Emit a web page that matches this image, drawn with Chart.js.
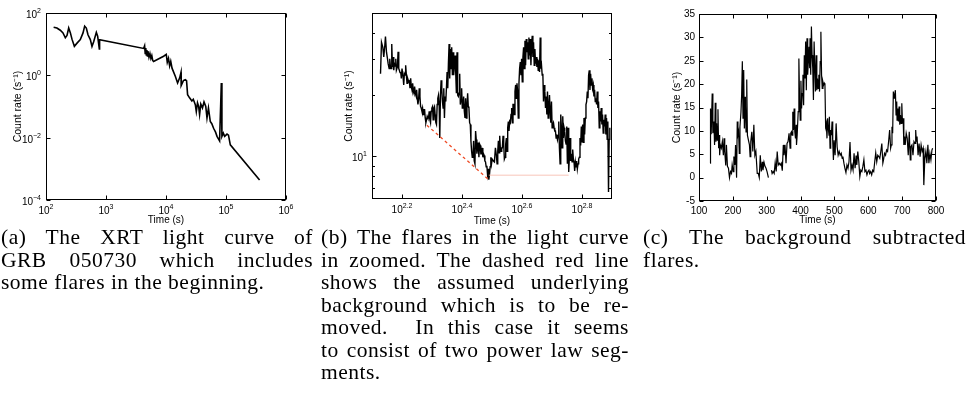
<!DOCTYPE html>
<html><head><meta charset="utf-8">
<script src="https://cdn.jsdelivr.net/npm/chart.js@4.4.1/dist/chart.umd.min.js"></script>
<style>
html,body{margin:0;padding:0;background:#fff;}
body{width:969px;height:405px;position:relative;overflow:hidden;}
canvas{position:absolute;top:0;}
.cap{position:absolute;top:226px;font-family:"Liberation Serif","Times New Roman",serif;font-size:21.5px;line-height:22.5px;color:#000;letter-spacing:0.5px;}
.cap div{text-align:justify;text-align-last:justify;}
.cap div.last{text-align:left;text-align-last:left;}
</style></head><body>
<canvas id="ca" width="300" height="230" style="left:0px"></canvas>
<canvas id="cb" width="320" height="230" style="left:320px"></canvas>
<canvas id="cc" width="329" height="230" style="left:640px"></canvas>

<div class="cap" style="left:1px;width:312px">
<div>(a) The XRT light curve of</div>
<div>GRB 050730 which includes</div>
<div class="last">some flares in the beginning.</div>
</div>
<div class="cap" style="left:321px;width:308px">
<div>(b) The flares in the light curve</div>
<div>in zoomed. The dashed red line</div>
<div>shows the assumed underlying</div>
<div>background which is to be re-</div>
<div>moved. &nbsp;In this case it seems</div>
<div>to consist of two power law seg-</div>
<div class="last">ments.</div>
</div>
<div class="cap" style="left:643px;width:323px">
<div>(c) The background subtracted</div>
<div class="last">flares.</div>
</div>

<script>
// ---------- (a) XRT light curve ----------
const aTime = [134,152,173,192,210,224,239,255,271,297,329,373,414,441,470,501,548,584,623,690,726,774,782,
  4235,4400,4500,4600,4700,4800,4900,5000,5200,5400,5600,5800,6000,6200,
  9120,10100,10500,11000,11500,12000,12600,14290,15600,16900,17800,17900,19500,21000,22000,22900,24700,
  27000,28500,30800,32000,33500,35000,36300,38000,40500,43000,46000,48200,51000,54700,58000,62100,67000,
  70800,78200,83600,85500,90200,95000,104000,110000,118000,363000];
const aRate = [35,33,28,23,16,19,33,23,14.5,8.5,10.8,14,23,38,33,20,14,8.5,12,24,18,7,14,
  7.3,8.9,5.0,7.5,4.5,6.5,4.2,6.0,3.8,5.0,3.5,4.3,3.0,2.8,
  4.1,4.7,2.6,3.5,2.0,2.8,1.7,0.94,0.57,0.83,1.26,0.47,0.68,0.73,0.68,0.24,0.19,
  0.15,0.17,0.115,0.069,0.13,0.1,0.055,0.12,0.09,0.14,0.1,0.043,0.09,0.033,0.028,0.02,0.015,
  0.011,0.0079,0.57,0.011,0.014,0.011,0.013,0.012,0.0059,0.00044];
const aXTicks = [1e2,1e3,1e4,1e5,1e6];
const aXExp = ['2','3','4','5','6'];
const aYTicks = [1e-4,1e-2,1,1e2];
const aYExp = ['\u22124','\u22122','0','2'];

// ---------- (b) zoomed flares ----------
const bTime = [134.4,135.4,136.8,137.8,138.9,139.6,140.7,141.8,142.5,143.6,144.3,145.0,145.8,146.5,147.3,148.0,148.8,149.5,150.3,151.1,
  151.8,153.0,153.8,154.6,155.3,156.1,156.9,157.7,158.5,159.8,160.6,161.4,162.2,163.0,163.9,164.7,165.5,166.8,167.7,168.5,
  169.4,170.2,171.1,172.0,172.9,173.7,174.6,175.5,176.4,177.3,178.2,179.1,180.0,180.9,181.9,182.8,183.7,184.7,185.6,186.6,
  187.5,188.5,189.4,190.4,191.4,192.3,193.3,194.3,195.3,196.3,197.3,198.3,199.3,200.3,201.3,202.4,203.4,204.4,205.5,206.5,
  207.6,208.6,209.7,210.8,211.8,212.9,214.0,215.1,216.2,217.3,218.4,219.5,220.6,221.8,222.9,224.0,225.2,226.3,227.5,228.6,
  229.8,231.0,232.1,233.3,234.5,235.7,236.9,238.1,239.3,240.6,241.8,243.0,244.2,245.5,246.8,248.0,249.3,250.5,251.8,253.1,
  254.4,255.7,257.0,258.3,259.6,260.9,262.3,263.6,264.9,266.3,267.7,269.0,270.4,271.8,273.2,274.6,275.9,277.4,278.8,280.2,
  281.6,283.0,284.5,286.0,287.4,288.9,290.3,291.8,293.3,294.8,296.3,297.8,299.4,300.9,302.4,304.0,305.5,307.1,308.6,310.2,
  311.8,313.4,315.0,316.6,
  319.7,322.2,324.6,327.1,328.8,330.5,332.1,333.8,335.5,337.3,339.0,340.7,342.4,344.2,346.0,347.7,349.5,351.3,353.1,354.9,
  356.7,358.5,360.3,362.2,364.0,365.9,367.7,369.6,371.5,373.4,375.3,377.2,379.2,381.1,383.0,385.0,386.9,388.9,390.9,392.9,
  394.9,396.9,398.9,401.0,403.0,405.1,407.2,409.2,411.3,413.4,415.5,417.6,419.8,421.9,424.1,426.3,428.4,430.6,432.8,435.0,
  437.3,439.5,441.7,444.0,446.3,448.5,450.8,453.1,455.4,457.8,460.1,462.4,464.8,467.2,469.6,472.0,474.4,476.8,479.2,481.7,
  484.1,486.6,489.1,491.6,494.1,496.6,499.2,501.7,504.3,506.9,509.4,512.0,514.6,517.3,519.9,522.6,525.2,527.9,530.6,533.3,
  536.0,538.8,541.5,544.3,547.1,549.8,552.6,555.5,558.3,561.2,564.0,566.9,569.8,572.7,575.6,578.5,581.5,584.5,587.5,590.5,
  593.5,596.5,599.6,602.6,605.7,608.8,611.9,615.0,618.2,621.3,624.5,627.7,630.9,634.1,637.3,640.6,643.8,647.2,650.5,653.8,
  657.1,660.5,663.8,667.2,670.6,674.1,677.5,680.9,684.4,687.9,691.4,694.9,698.5,702.0,705.6,709.2,712.9,716.5,720.2,723.8,
  727.5,731.2,735.0,738.7,742.5,746.3,750.1,753.9,757.7,761.6,765.5,769.4,773.3,777.3,781.2];
const bRate = [25.3,36.0,34.0,30.5,34.7,38.4,32.2,29.9,28.3,26.8,29.9,27.3,26.8,35.3,27.3,30.5,26.3,28.3,27.6,29.9,
  26.3,27.3,32.4,26.8,26.3,25.6,25.8,24.0,26.8,24.4,22.3,25.3,24.9,27.8,24.9,22.7,24.0,23.1,23.3,21.5,
  24.0,21.9,21.1,22.7,20.7,20.3,21.9,20.3,19.8,21.1,19.2,17.9,18.9,21.5,19.6,17.5,17.2,16.6,17.2,16.0,
  16.9,16.9,15.4,14.6,15.1,15.7,15.4,15.4,16.6,15.1,14.6,16.6,17.2,17.5,15.1,17.2,17.5,16.0,14.6,14.3,
  17.9,19.2,19.9,17.9,12.3,19.9,23.5,21.1,18.5,17.2,21.5,15.4,19.6,18.5,21.5,25.8,21.5,28.3,35.3,24.0,
  33.4,26.8,34.0,24.9,32.2,24.9,27.8,31.0,25.8,20.3,32.2,19.9,19.6,20.3,25.3,17.9,18.9,21.5,17.2,17.5,
  19.6,16.6,15.4,19.2,15.4,17.2,20.3,17.5,17.2,14.6,14.3,11.9,10.6,9.9,10.1,11.9,9.5,9.2,13.3,12.1,
  10.3,11.0,11.7,9.9,11.5,11.3,10.3,10.3,11.0,9.9,10.3,10.1,9.5,9.4,8.9,9.0,8.2,8.7,7.7,8.2,
  8.9,9.9,9.2,9.7,
  9.5,9.4,11.0,10.1,9.2,10.6,11.9,10.4,12.6,10.8,10.6,11.0,11.0,12.6,11.5,9.7,9.9,11.5,12.3,10.6,
  13.8,14.8,13.3,14.8,14.6,16.0,17.2,14.6,17.9,17.9,16.0,20.7,22.3,19.2,22.7,20.7,15.4,22.7,26.8,28.8,
  24.9,29.9,23.1,30.5,34.0,26.8,36.6,27.8,37.3,32.2,36.0,29.9,38.0,31.0,37.3,27.8,34.7,38.7,30.5,36.0,
  27.8,33.4,28.3,30.5,27.3,29.9,26.3,29.4,25.8,38.0,26.8,27.8,24.9,25.3,18.5,22.3,20.7,17.2,19.6,16.0,
  20.7,15.4,17.2,19.9,16.6,14.6,18.5,13.8,14.3,14.6,13.8,13.3,13.3,12.3,12.8,12.1,12.6,14.8,11.0,9.2,
  16.0,13.8,11.0,15.7,12.3,13.8,13.3,11.9,11.5,14.0,9.2,13.8,8.4,9.9,12.3,9.5,10.3,9.4,10.8,9.7,
  9.4,8.5,9.4,8.9,9.5,8.7,9.2,9.7,9.9,12.3,11.3,14.0,11.7,14.3,11.7,15.4,12.8,15.4,17.9,18.5,
  20.7,19.2,24.9,26.3,21.1,25.3,22.3,24.0,21.5,22.3,19.6,21.1,18.5,19.2,17.9,20.7,17.2,18.5,13.8,16.6,
  14.8,17.2,14.3,16.0,13.0,15.1,14.0,16.0,12.8,15.4,12.1,14.8,6.7,12.1,13.8];
// assumed background: two power-law segments
const bgTime1 = [191.8, 308.6];
const bgRate1 = [14.2, 7.7];
const bgTime2 = [308.6, 569.8];
const bgRate2 = [8.1, 8.1];
const bXExp = ['2.2','2.4','2.6','2.8'];
const bYTicks = [10];
const bYExp = ['1'];
const bYMinor = [7,8,9,20,30,40];

// ---------- (c) background subtracted ----------
const cTime = [133,134,136,139,141,144,146,148,150,152,154,156,158,160,161,163,166,169,172,174,
  176,179,181,184,187,190,193,196,198,201,203,206,208,211,213,215,217,219,221,224,
  226,228,230,232,234,236,237,239,241,243,246,249,251,253,256,259,262,265,268,272,
  275,278,281,284,287,289,292,295,298,301,305,309,314,316,319,322,325,328,331,334,
  337,340,343,346,349,351,354,357,360,363,366,369,371,373,375,377,379,381,383,385,
  387,388,390,393,395,397,399,401,403,405,407,409,411,413,415,417,419,421,423,425,
  427,428,430,432,434,436,438,440,444,446,448,450,452,454,456,458,460,462,464,466,
  468,470,472,474,476,478,480,482,484,485,487,489,491,493,495,497,499,502,505,508,
  511,514,517,520,523,525,528,531,534,537,540,543,546,549,552,555,558,561,564,566,
  569,572,575,578,581,584,587,590,593,596,599,602,604,607,610,613,616,619,622,625,
  628,631,634,637,640,643,645,648,651,654,657,660,663,666,668,670,672,674,676,678,
  680,682,684,685,687,689,691,693,695,697,699,701,703,705,707,709,712,715,718,721,
  724,726,729,732,735,738,740,742,744,747,750,753,756,759,762,764,767,770,773,776,
  779,782,785,788,790];
const cRate = [3.1,14.8,9.3,18,9.5,12,7,16,7.7,11.6,8,14.6,6.3,9.1,4.8,7,6.3,7.7,4.8,8.4,
  5.6,2.6,7,2.4,2,0,1.3,0.9,2.7,1.3,4.5,2.7,7,0,12,9.1,9.8,5.2,10.9,14.1,
  17.8,24.9,12.7,23,10.5,17.3,15.5,9.8,21,9.1,8,7,4.5,7.7,9.8,5.6,11.3,4.8,5.6,0.9,
  0.9,0,4.8,1.3,3.4,1.6,3.3,2.4,2,1.3,0,null,1.6,0.9,1.3,0.9,3.2,1.3,5.6,2.7,
  3.1,2.7,3.1,1.5,7,4.8,7,3.1,7.3,7.7,9.5,6.3,9.5,9.8,9.1,14.1,10.2,14.8,9.8,8.4,
  11.3,7,9.1,14.1,25.5,17,12.3,20.7,14.8,18,22,15.5,26.2,21.2,29.1,18.7,29.8,22,24.8,28,
  23.4,29.8,22,32.3,26.2,23.4,16.6,29.1,18.4,26.2,18.7,21.2,19.1,22,18.4,24.8,31.2,22,19.1,20.5,
  19.8,20.2,19.8,10.9,11.6,8.4,12.7,10.5,9.1,13,6.3,10.2,9.1,12,7.7,3.8,8,4.8,11.6,6.6,
  4.8,5.6,4.8,5.2,4.1,4.5,3.1,2,1.1,2.7,2,3.4,7.6,1.6,2.7,1.6,5.2,2,4.7,2.7,
  5.6,3.4,0.2,1.6,1.3,2.4,3.8,1.3,1.6,0.6,1.3,1.6,0.9,1.3,0.6,1.6,1.3,3.4,5.3,3.4,
  4.8,4.5,4.1,5.6,7.3,3.1,3.8,5.2,4.8,5.9,5.6,7.7,10.2,6.3,7,10.9,9.5,18.4,17,17.7,
  18.7,13.4,16.3,12.3,14.8,12,15.2,11.3,13.4,11.6,15.9,11.6,12.7,7,8.8,7,9.5,8.4,4.8,9.8,
  3.8,6.6,7,4.8,7.7,7.3,10.2,7.7,8.8,4.8,7.3,4.5,7,5.6,6.3,-1.6,4.1,5.6,3.1,7,
  3.1,5.2,3.8,5.9,6.3];
const cXTicks = [100,200,300,400,500,600,700,800];
const cYTicks = [-5,0,5,10,15,20,25,30,35];

// ---------- helpers ----------
const SANS = '"Liberation Sans", Arial, Helvetica, sans-serif';
Chart.defaults.font.family = SANS;
Chart.defaults.font.size = 10;
Chart.defaults.color = '#000';

const pts = (xs, ys) => xs.map((x, i) => ({x: x, y: ys[i]}));

const mAxes = {
  id: 'mAxes',
  afterDraw(chart, args, o) {
    const ctx = chart.ctx, a = chart.chartArea, xs = chart.scales.x, ys = chart.scales.y;
    ctx.save();
    ctx.strokeStyle = '#000'; ctx.lineWidth = 1;
    const L = Math.round(a.left) + 0.5, R = Math.round(a.right) - 0.5;
    const T = Math.round(a.top) + 0.5, B = Math.round(a.bottom) - 0.5;
    ctx.strokeRect(L, T, R - L, B - T);
    ctx.beginPath();
    const tick = (vals, len, isX) => (vals || []).forEach(v => {
      if (isX) {
        const p = Math.round(xs.getPixelForValue(v)) + 0.5;
        ctx.moveTo(p, B); ctx.lineTo(p, B - len); ctx.moveTo(p, T); ctx.lineTo(p, T + len);
      } else {
        const p = Math.round(ys.getPixelForValue(v)) + 0.5;
        ctx.moveTo(L, p); ctx.lineTo(L + len, p); ctx.moveTo(R, p); ctx.lineTo(R - len, p);
      }
    });
    tick(o.xMajor, 4, true); tick(o.yMajor, 4, false);
    tick(o.xMinor, 2.5, true); tick(o.yMinor, 2.5, false);
    ctx.stroke();
    ctx.fillStyle = '#000'; ctx.textAlign = 'left'; ctx.textBaseline = 'alphabetic';
    const big = '10px ' + SANS, small = '7px ' + SANS;
    const widths = e => { ctx.font = big; const wb = ctx.measureText('10').width; ctx.font = small; return [wb, ctx.measureText(e).width]; };
    (o.xExp || []).forEach((e, i) => {
      const p = xs.getPixelForValue(o.xMajor[i]);
      const [wb, we] = widths(e);
      const s = p - (wb + we) / 2;
      ctx.font = big; ctx.fillText('10', s, a.bottom + 14);
      ctx.font = small; ctx.fillText(e, s + wb, a.bottom + 9);
    });
    (o.yExp || []).forEach((e, i) => {
      const p = ys.getPixelForValue(o.yMajor[i]);
      const [wb, we] = widths(e);
      const s = a.left - 5 - (wb + we);
      ctx.font = big; ctx.fillText('10', s, p + 5);
      ctx.font = small; ctx.fillText(e, s + wb, p);
    });
    ctx.restore();
  }
};

function makeChart(id, datasets, o) {
  return new Chart(document.getElementById(id), {
    type: 'line',
    data: { datasets: datasets },
    options: {
      responsive: false, animation: false, devicePixelRatio: 1,
      layout: { padding: o.pad },
      plugins: { legend: {display: false}, tooltip: {enabled: false}, mAxes: o.axes },
      elements: { point: { radius: 0 }, line: { tension: 0 } },
      scales: {
        x: {
          type: o.xType, min: o.xMin, max: o.xMax,
          grid: {display: false, drawTicks: false}, border: {display: false},
          ticks: {display: o.native, padding: 4, font: {size: 10}, color: '#000', maxRotation: 0, autoSkip: false},
          afterBuildTicks: s => { s.ticks = o.xTicks.map(v => ({value: v})); },
          afterFit: s => { s.height = o.xH; },
          title: {display: true, text: 'Time (s)', color: '#000', font: {size: 10}, padding: {top: 0, bottom: o.xTP}}
        },
        y: {
          type: o.yType, min: o.yMin, max: o.yMax,
          grid: {display: false, drawTicks: false}, border: {display: false},
          ticks: {display: o.native, padding: 4, font: {size: 10}, color: '#000', autoSkip: false},
          afterBuildTicks: s => { s.ticks = o.yTicks.map(v => ({value: v})); },
          afterFit: s => { s.width = o.yW; },
          title: {display: true, text: 'Count rate (s\u207B\u00B9)', color: '#000', font: {size: 10.5}, padding: {top: 4, bottom: 0}}
        }
      }
    },
    plugins: [mAxes]
  });
}

const line = (xs, ys, extra) => Object.assign({data: pts(xs, ys), borderColor: '#000', borderWidth: 1.3, pointRadius: 0, fill: false, spanGaps: false}, extra || {});

// (a)
makeChart('ca', [line(aTime, aRate, {borderWidth: 1.6})], {
  pad: {left: 8, top: 13, right: 14, bottom: 0}, xType: 'logarithmic', yType: 'logarithmic',
  xMin: 1e2, xMax: 1e6, yMin: 1e-4, yMax: 1e2, xTicks: aXTicks, yTicks: aYTicks,
  xH: 30, yW: 38, xTP: 4, native: false,
  axes: {xMajor: aXTicks, yMajor: aYTicks, xExp: aXExp, yExp: aYExp}
});

// (b)
const bXTicks = bXExp.map(e => Math.pow(10, parseFloat(e)));
makeChart('cb', [
  line(bgTime2, bgRate2, {borderColor: '#f6b8a8', borderWidth: 0.8}),
  line(bgTime1, bgRate1, {borderColor: '#ee4a24', borderWidth: 1.3, borderDash: [3, 3]}),
  line(bTime, bRate, {borderWidth: 1.4})
], {
  pad: {left: 19, top: 13, right: 28, bottom: 0}, xType: 'logarithmic', yType: 'logarithmic',
  xMin: Math.pow(10, 2.1), xMax: Math.pow(10, 2.9), yMin: 6.2, yMax: 50, xTicks: bXTicks, yTicks: bYTicks,
  xH: 31, yW: 33, xTP: 3, native: false,
  axes: {xMajor: bXTicks, yMajor: bYTicks, yMinor: bYMinor, xExp: bXExp, yExp: bYExp}
});

// (c)
makeChart('cc', [line(cTime, cRate, {borderWidth: 1.2})], {
  pad: {left: 27, top: 14, right: 33, bottom: 0}, xType: 'linear', yType: 'linear',
  xMin: 100, xMax: 800, yMin: -5, yMax: 35, xTicks: cXTicks, yTicks: cYTicks,
  xH: 29, yW: 32, xTP: 4, native: true,
  axes: {xMajor: cXTicks, yMajor: cYTicks}
});
</script>
</body></html>
